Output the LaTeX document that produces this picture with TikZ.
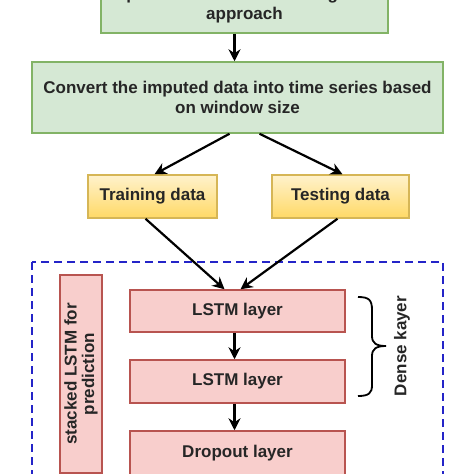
\documentclass[tikz,border=0pt]{standalone}
\usepackage{fontspec}
\setmainfont{Liberation Sans}
\usetikzlibrary{arrows.meta}
\definecolor{greenfill}{HTML}{D5E8D4}
\definecolor{greenline}{HTML}{82B366}
\definecolor{yellowtop}{HTML}{FFF2CC}
\definecolor{yellowbot}{HTML}{FFD966}
\definecolor{yellowline}{HTML}{D6B656}
\definecolor{pinkfill}{HTML}{F8CECC}
\definecolor{pinkline}{HTML}{B85450}
\definecolor{dashblue}{HTML}{2424C8}
\tikzset{
  box/.style={draw, line width=1.5pt, inner sep=0pt, align=center,
    font=\bfseries\fontsize{17}{20.5}\selectfont, text=black!85},
  greenbox/.style={box, fill=greenfill, draw=greenline},
  yellowbox/.style={box, draw=yellowline, top color=yellowtop, bottom color=yellowbot},
  pinkbox/.style={box, fill=pinkfill, draw=pinkline},
  flow/.style={-{Stealth[length=12pt,width=12pt,inset=4pt]}, line width=2.2pt, black},
  sidetext/.style={rotate=90, align=center, font=\bfseries\fontsize{17}{17.5}\selectfont, text=black!85},
}
\begin{document}
\begin{tikzpicture}[x=1pt,y=-1pt]
  \clip (0,0) rectangle (474,474);
  \useasboundingbox (0,0) rectangle (474,474);
  % boxes
  \node[greenbox, minimum width=287pt, minimum height=56pt] (impute) at (244.5,5)
    {Impute the MNAR data using PMM\\approach};
  \node[greenbox, minimum width=411pt, minimum height=71pt] (convert) at (237.5,97.5)
    {Convert the imputed data into time series based\\on window size};
  \node[yellowbox, minimum width=129pt, minimum height=43pt] (train) at (152.5,196.5) {Training data};
  \node[yellowbox, minimum width=137pt, minimum height=43pt] (test) at (340.5,196.5) {Testing data};
  \draw[dashblue, line width=2.2pt, dash pattern=on 8pt off 5pt] (32,262) rectangle (443,490);
  \node[pinkbox, minimum width=42pt, minimum height=198pt] (stacked) at (81,374) {};
  \node[sidetext] (stackedtxt) at (stacked.center) {stacked LSTM for\\prediction};
  \node[pinkbox, minimum width=215pt, minimum height=42pt] (lstma) at (237.5,311) {LSTM layer};
  \node[pinkbox, minimum width=215pt, minimum height=43pt] (lstmb) at (237.5,381.5) {LSTM layer};
  \node[pinkbox, minimum width=215pt, minimum height=44pt] (dropout) at (237.5,453) {Dropout layer};
  % arrows
  \draw[flow] ([xshift=-10pt]impute.south) -- ([xshift=-3pt]convert.north);
  \draw[flow] ([xshift=-8pt]convert.south) -- ([xshift=2pt]train.north);
  \draw[flow] ([xshift=22pt]convert.south) -- ([xshift=2pt]test.north);
  \draw[flow] ([xshift=-7pt]train.south) -- ([xshift=-13pt]lstma.north);
  \draw[flow] ([xshift=-3pt]test.south) -- ([xshift=3pt]lstma.north);
  \draw[flow] ([xshift=-3pt]lstma.south) -- ([xshift=-3pt]lstmb.north);
  \draw[flow] ([xshift=-3pt]lstmb.south) -- ([xshift=-3pt]dropout.north);
  % brace
  \draw[line width=1.8pt] (358,297) .. controls (369,297) and (372,300) .. (372,310) -- (372,336)
    .. controls (372,343) and (376,346) .. (386,346)
    .. controls (376,346) and (372,349) .. (372,356) -- (372,385)
    .. controls (372,393) and (369,396) .. (358,396);
  \node[sidetext] (dense) at (402,346) {Dense kayer};
\end{tikzpicture}
\end{document}
